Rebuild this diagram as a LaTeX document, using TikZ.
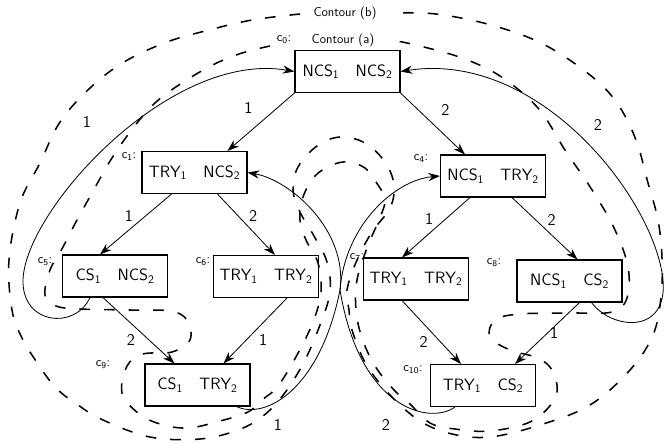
\documentclass[tikz,border=0pt]{standalone}
\usepackage{tikz}
\usepackage{amsmath}
\usetikzlibrary{arrows.meta,calc}
\newcommand{\ix}[1]{$_{\textsf{#1}}$}

\begin{document}
\begin{tikzpicture}[x=0.03cm,y=-0.03cm,
  stbox/.style={draw,line width=0.9pt,minimum width=3.15cm,minimum height=1.26cm,inner sep=0pt,font=\sffamily\fontsize{14}{16}\selectfont},
  clbl/.style={inner sep=0pt,font=\sffamily\fontsize{11}{13}\selectfont},
  elbl/.style={inner sep=2pt,font=\sffamily\fontsize{14}{16}\selectfont},
  arr/.style={line width=0.7pt,-{Stealth[length=10pt,width=7pt]}},
  contour/.style={line width=1.3pt,dash pattern=on 9pt off 12pt}]
  \useasboundingbox (0,0) rectangle (667,443);
  \node[stbox] (c0) at (347.5,71.5) {NCS\ix{1}\quad NCS\ix{2}};
  \node[stbox] (c1) at (194.5,172.5) {TRY\ix{1}\quad NCS\ix{2}};
  \node[stbox] (c4) at (493,176) {NCS\ix{1}\quad TRY\ix{2}};
  \node[stbox] (c5) at (115,276) {CS\ix{1}\quad NCS\ix{2}};
  \node[stbox] (c6) at (266,276.5) {TRY\ix{1}\quad TRY\ix{2}};
  \node[stbox] (c7) at (416,279) {TRY\ix{1}\quad TRY\ix{2}};
  \node[stbox] (c8) at (569.5,281) {NCS\ix{1}\quad CS\ix{2}};
  \node[stbox] (c9) at (197.5,385) {CS\ix{1}\quad TRY\ix{2}};
  \node[stbox] (c10) at (483,385.5) {TRY\ix{1}\quad CS\ix{2}};
  \node[clbl] (n0) at (284,40) {c\ix{0}:};
  \node[clbl] (n1) at (129,157) {c\ix{1}:};
  \node[clbl] (n4) at (421,159) {c\ix{4}:};
  \node[clbl] (n5) at (45,262) {c\ix{5}:};
  \node[clbl] (n6) at (203,262) {c\ix{6}:};
  \node[clbl] (n7) at (357,258) {c\ix{7}:};
  \node[clbl] (n8) at (494,263) {c\ix{8}:};
  \node[clbl] (n9) at (103,365) {c\ix{9}:};
  \node[clbl] (n10) at (413,370) {c\ix{10}:};
  \draw[arr] (c0.south west) -- ($(c1.north)+(33,0)$) node[elbl,midway,above left=5pt] {1};
  \draw[arr] (c0.south east) -- ($(c4.north)+(-28,0)$) node[elbl,midway,above right=5pt] {2};
  \draw[arr] ($(c1.south)+(-23,0)$) -- ($(c5.north)+(-15,0)$) node[elbl,midway,above left=0pt] {1};
  \draw[arr] ($(c1.south)+(23,0)$) -- ($(c6.north)+(9,0)$) node[elbl,midway,above right=0pt] {2};
  \draw[arr] ($(c4.south)+(-23,0)$) -- ($(c7.north)+(-14,0)$) node[elbl,midway,above left=0pt] {1};
  \draw[arr] ($(c4.south)+(19,0)$) -- ($(c8.north)+(8,0)$) node[elbl,midway,above right=0pt] {2};
  \draw[arr] ($(c5.south)+(-12,0)$) -- ($(c9.north)+(-23,0)$) node[elbl,midway,below left=1pt] {2};
  \draw[arr] ($(c6.south)+(21,0)$) -- ($(c9.north)+(26,0)$) node[elbl,midway,below right=1pt] {1};
  \draw[arr] ($(c7.south)+(-14,0)$) -- ($(c10.north)+(-22,0)$) node[elbl,midway,below left=1pt] {2};
  \draw[arr] ($(c8.south)+(10,0)$) -- ($(c10.north)+(32,0)$) node[elbl,midway,right=0pt] {1};
  \draw[arr] ($(c5.south)+(-25,0)$) .. controls (75,330) and (22,325) .. (23,280) .. controls (25,210) and (170,50) .. (c0.west);
  \draw[arr] ($(c8.south)+(22,0)$) .. controls (612,330) and (668,335) .. (663,280) .. controls (655,200) and (540,50) .. (c0.east);
  \draw[arr] ($(c9.south)+(39,0)$) .. controls (265,420) and (320,390) .. (340,290) .. controls (348,230) and (290,180) .. (c1.east);
  \draw[arr] ($(c10.south)+(-28,0)$) .. controls (430,425) and (360,410) .. (340,290) .. controls (345,225) and (395,180) .. (c4.west);
  \node[elbl] (e1) at (87,122) {1};
  \node[elbl] (e2) at (598,125) {2};
  \node[elbl] (e3) at (278,425) {1};
  \node[elbl] (e4) at (386,425) {2};
  \draw[contour] plot[smooth,tension=0.6] coordinates {(300,14) (252,20) (209,30) (167,42) (124,62) (90,88) (60,122) (40,163) (20,203) (9,260) (12,310) (22,338) (38,364) (56,388) (78,405) (103,420) (150,437) (200,439) (238,430) (263,416) (284,394) (304,362) (320,325) (330,292) (327,262) (314,236) (300,212) (293,190) (298,167) (317,146) (340,137) (365,143) (385,162) (394,185) (390,208) (372,232) (357,260) (347,290) (349,310) (352,330) (366,364) (390,395) (420,421) (452,434) (490,437) (540,425) (590,405) (630,370) (653,335) (661,297) (662,258) (658,220) (648,183) (636,140) (617,103) (590,75) (543,44) (491,25) (436,14) (392,13)};
  \draw[contour] plot[smooth,tension=0.6] coordinates {(270,46) (239,54) (205,69) (162,97) (137,123) (112,158) (92,193) (77,220) (63,247) (50,270) (45,295) (56,306) (80,309) (130,310) (170,311) (187,320) (190,340) (172,352) (143,354) (127,366) (122,393) (138,413) (160,424) (188,428) (220,421) (248,412) (262,400) (278,386) (297,355) (313,322) (321,292) (318,263) (306,240) (300,220) (303,197) (315,176) (332,165) (348,162) (365,168) (376,182) (385,200) (378,222) (367,248) (357,280) (356,310) (362,338) (375,366) (394,390) (410,404) (430,423) (455,429) (490,431) (530,422) (553,402) (557,385) (550,367) (535,357) (510,350) (490,337) (495,320) (520,314) (570,313) (612,312) (627,298) (628,267) (615,230) (594,193) (565,150) (538,108) (500,76) (462,58) (420,46) (392,40)};
  \node[clbl,fill=white,inner sep=2pt] (cb) at (345,13) {Contour (b)};
  \node[clbl,fill=white,inner sep=2pt] (ca) at (343,40) {Contour (a)};
\end{tikzpicture}
\end{document}
